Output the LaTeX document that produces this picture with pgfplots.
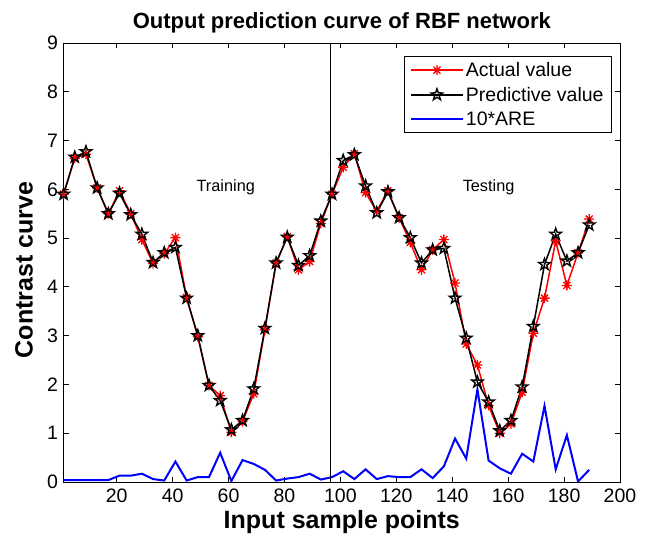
\documentclass[border=0pt]{standalone}
\usepackage{pgfplots}
\pgfplotsset{compat=1.18}
\usepackage{pgfplotstable}
\usepackage{fontspec}
\setmainfont{Liberation Sans}
\pgfdeclareplotmark{mast}{%
 \pgfpathmoveto{\pgfqpoint{-\pgfplotmarksize}{0pt}}\pgfpathlineto{\pgfqpoint{\pgfplotmarksize}{0pt}}%
 \pgfpathmoveto{\pgfqpoint{0pt}{-\pgfplotmarksize}}\pgfpathlineto{\pgfqpoint{0pt}{\pgfplotmarksize}}%
 \pgfpathmoveto{\pgfqpoint{-.707\pgfplotmarksize}{-.707\pgfplotmarksize}}\pgfpathlineto{\pgfqpoint{.707\pgfplotmarksize}{.707\pgfplotmarksize}}%
 \pgfpathmoveto{\pgfqpoint{-.707\pgfplotmarksize}{.707\pgfplotmarksize}}\pgfpathlineto{\pgfqpoint{.707\pgfplotmarksize}{-.707\pgfplotmarksize}}%
 \pgfusepathqstroke}
\pgfdeclareplotmark{pent}{%
 \pgfpathmoveto{\pgfqpointpolar{90}{\pgfplotmarksize}}%
 \pgfpathlineto{\pgfqpointpolar{126}{0.4\pgfplotmarksize}}%
 \pgfpathlineto{\pgfqpointpolar{162}{\pgfplotmarksize}}%
 \pgfpathlineto{\pgfqpointpolar{198}{0.4\pgfplotmarksize}}%
 \pgfpathlineto{\pgfqpointpolar{234}{\pgfplotmarksize}}%
 \pgfpathlineto{\pgfqpointpolar{270}{0.4\pgfplotmarksize}}%
 \pgfpathlineto{\pgfqpointpolar{306}{\pgfplotmarksize}}%
 \pgfpathlineto{\pgfqpointpolar{342}{0.4\pgfplotmarksize}}%
 \pgfpathlineto{\pgfqpointpolar{18}{\pgfplotmarksize}}%
 \pgfpathlineto{\pgfqpointpolar{54}{0.4\pgfplotmarksize}}%
 \pgfpathclose
 \pgfusepathqstroke}
\pgfplotstableread{
x actual pred are
1 5.90 5.90 0.04
5 6.64 6.66 0.04
9 6.72 6.77 0.04
13 6.03 6.03 0.04
17 5.50 5.50 0.04
21 5.97 5.92 0.13
25 5.50 5.48 0.13
29 4.97 5.08 0.17
33 4.48 4.50 0.06
37 4.68 4.70 0.03
41 5.01 4.81 0.42
45 3.78 3.77 0.03
49 2.98 3.00 0.10
53 1.98 1.98 0.10
57 1.77 1.67 0.60
61 1.02 1.07 0.02
65 1.24 1.26 0.45
69 1.81 1.91 0.37
73 3.12 3.15 0.25
77 4.49 4.49 0.03
81 5.03 5.02 0.07
85 4.35 4.44 0.10
89 4.52 4.64 0.17
93 5.30 5.35 0.05
97 5.90 5.90 0.10
101 6.45 6.59 0.22
105 6.73 6.71 0.06
109 5.93 6.07 0.26
113 5.55 5.52 0.06
117 5.97 5.95 0.12
121 5.42 5.42 0.10
125 4.91 5.01 0.10
129 4.35 4.49 0.26
133 4.76 4.76 0.08
137 4.97 4.79 0.32
141 4.08 3.77 0.89
145 2.83 2.95 0.48
149 2.40 2.05 1.90
153 1.57 1.64 0.44
157 1.00 1.05 0.28
161 1.19 1.26 0.17
165 1.84 1.95 0.58
169 3.05 3.19 0.42
173 3.77 4.46 1.56
177 4.94 5.08 0.26
181 4.03 4.53 0.96
185 4.70 4.70 0.01
189 5.39 5.27 0.25
}\datatable
\begin{document}
\begin{tikzpicture}
\begin{axis}[
  at={(0pt,0pt)}, anchor=south west,
  scale only axis, width=556.4pt, height=439pt,
  xmin=1, xmax=200, ymin=0, ymax=9,
  xtick={20,40,...,200}, ytick={0,1,...,9},
  tick align=inside, major tick length=5pt,
  axis line style={line width=0.8pt}, tick style={line width=0.8pt, black},
  /pgf/number format/assume math mode=true,
  tick label style={font=\fontsize{19.5}{20}\selectfont},
  xticklabel style={yshift=-3pt},
  yticklabel style={xshift=-2pt},
  title={Output prediction curve of RBF network},
  title style={font=\fontsize{22}{24}\selectfont\bfseries, yshift=0pt},
  xlabel={Input sample points}, ylabel={Contrast curve},
  label style={font=\fontsize{25}{27}\selectfont\bfseries},
  xlabel style={at={(rel axis cs:0.5,0)}, anchor=center, yshift=-40pt},
  ylabel style={at={(axis description cs:-0.0712,0.483)}, anchor=center},
  legend style={at={(rel axis cs:1,1)}, anchor=north east, xshift=-8pt, yshift=-13pt,
    font=\fontsize{19.5}{21}\selectfont, draw=black, line width=0.8pt, inner xsep=6pt, inner ysep=4pt,
    row sep=5pt},
  legend cell align=left,
  legend image code/.code={\draw[mark repeat=2,mark phase=2] plot coordinates {(0pt,0pt) (26pt,0pt) (52pt,0pt)};},
]
\addplot[red, line width=1.5pt, mark=mast, mark size=5pt, mark options={line width=1.3pt}] table[x=x,y=actual]{\datatable};
\addlegendentry{Actual value}
\addplot[black, line width=1.5pt, mark=pent, mark size=6pt, mark options={line width=1.4pt}] table[x=x,y=pred]{\datatable};
\addlegendentry{Predictive value}
\addplot[blue, line width=2pt, mark=none] table[x=x,y=are]{\datatable};
\addlegendentry{10*ARE}
\addplot[black, line width=0.8pt, forget plot] coordinates {(96.5,0) (96.5,9)};
\node[font=\fontsize{16.3}{18}\selectfont] at (axis cs:59,6.05) {Training};
\node[font=\fontsize{16.3}{18}\selectfont] at (axis cs:153,6.05) {Testing};
\end{axis}
\pgfresetboundingbox
\path (-63.6pt,-55pt) rectangle (584.4pt,482pt);
\end{tikzpicture}
\end{document}
